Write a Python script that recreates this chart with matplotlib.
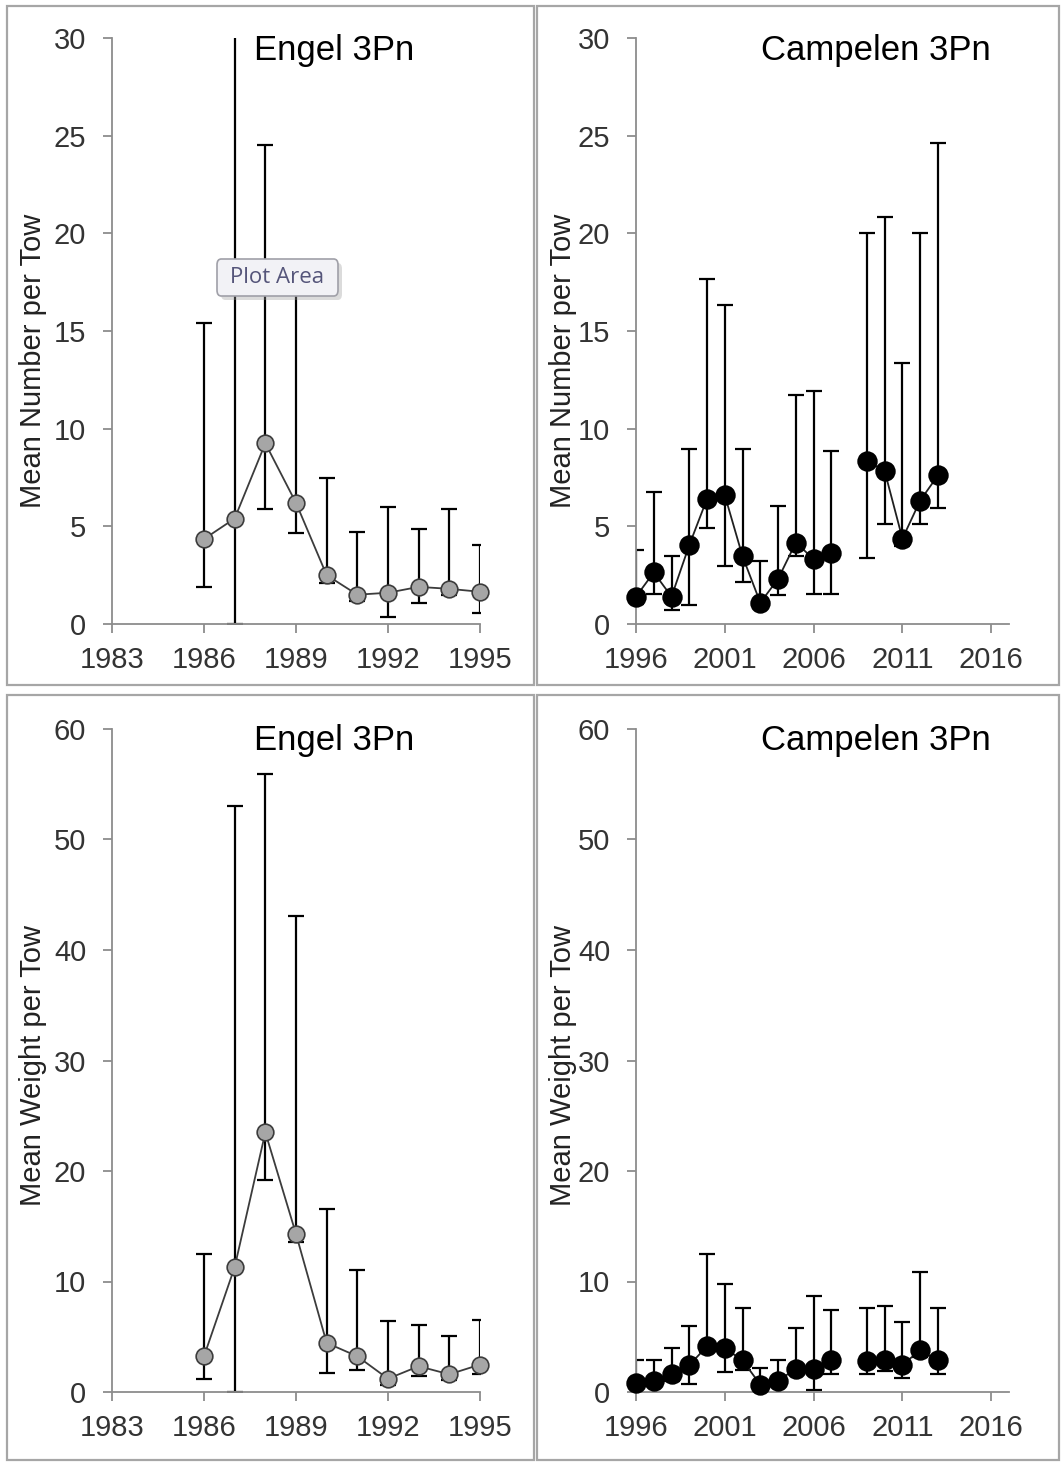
import numpy as np
import matplotlib.pyplot as plt
from matplotlib.patches import Rectangle, FancyBboxPatch

plt.rcParams['font.family'] = ['Liberation Sans', 'DejaVu Sans']

# Engel survey, 3Pn
engel_years = [1986, 1987, 1988, 1989, 1990, 1991, 1992, 1993, 1994, 1995]
engel_num_mean = [4.35, 5.4, 9.25, 6.2, 2.5, 1.5, 1.6, 1.9, 1.8, 1.65]
engel_num_upper = [15.4, 33.0, 24.5, 17.8, 7.5, 4.7, 6.0, 4.85, 5.9, 4.05]
engel_num_lower = [1.9, 0.0, 5.9, 4.65, 2.1, 1.2, 0.35, 1.1, 1.5, 0.55]
engel_wt_mean = [3.23, 11.3, 23.5, 14.3, 4.44, 3.23, 1.2, 2.33, 1.6, 2.48]
engel_wt_upper = [12.5, 53.0, 55.9, 43.1, 16.6, 11.0, 6.47, 6.07, 5.05, 6.5]
engel_wt_lower = [1.2, 0.0, 19.2, 13.6, 1.75, 1.96, 0.6, 1.42, 1.1, 1.66]

# Campelen survey, 3Pn (no survey in 2008)
nan = np.nan
camp_years = list(range(1996, 2014))
camp_num_mean = [1.4, 2.64, 1.4, 4.04, 6.41, 6.59, 3.46, 1.09, 2.31, 4.17, 3.32, 3.64, nan, 8.36, 7.83, 4.37, 6.32, 7.61]
camp_num_upper = [3.77, 6.74, 3.5, 8.98, 17.67, 16.32, 8.98, 3.24, 6.03, 11.73, 11.93, 8.87, nan, 20.0, 20.84, 13.37, 20.0, 24.6]
camp_num_lower = [1.0, 1.55, 0.71, 0.95, 4.9, 2.99, 2.15, 0.8, 1.46, 3.5, 1.55, 1.55, nan, 3.37, 5.1, 4.0, 5.1, 5.94]
camp_wt_mean = [0.81, 1.02, 1.63, 2.44, 4.13, 3.95, 2.86, 0.66, 1.02, 2.11, 2.08, 2.86, nan, 2.83, 2.86, 2.47, 3.77, 2.86]
camp_wt_upper = [2.92, 2.92, 3.98, 5.93, 12.47, 9.76, 7.59, 2.17, 2.92, 5.78, 8.7, 7.41, nan, 7.59, 7.77, 6.33, 10.84, 7.59]
camp_wt_lower = [0.5, 0.7, 0.96, 0.72, 3.6, 1.81, 2.02, 0.4, 0.7, 1.8, 0.15, 1.63, nan, 1.63, 1.87, 1.27, 3.2, 1.63]

W, H = 1061, 1462
fig = plt.figure(figsize=(W / 100, H / 100), dpi=100)


def add_ax(left, right, top, bottom):
    # pixel box -> figure fraction
    return fig.add_axes([left / W, 1 - bottom / H, (right - left) / W, (bottom - top) / H])


def draw_panel(ax, years, mean, lower, upper, face, edge, msize, line_col,
               xlim, xticks, ylim, yticks, ylabel, label_pos, title, title_pos):
    x = np.array(years, dtype=float)
    m = np.array(mean, dtype=float)
    lo = np.array(lower, dtype=float)
    hi = np.array(upper, dtype=float)
    ok = ~np.isnan(m)
    ax.errorbar(x[ok], m[ok], yerr=[m[ok] - lo[ok], hi[ok] - m[ok]], fmt='none',
                ecolor='black', elinewidth=1.6, capsize=5.6, capthick=1.6, zorder=2)
    ax.plot(x, m, color=line_col, lw=1.3, zorder=3)
    ax.plot(x, m, ls='none', marker='o', ms=msize, mfc=face, mec=edge, mew=1.2,
            zorder=4, clip_on=False)

    ax.set_xlim(*xlim)
    ax.set_ylim(*ylim)
    ax.set_xticks(xticks)
    ax.set_yticks(yticks)
    for s in ['top', 'right']:
        ax.spines[s].set_visible(False)
    for s in ['left', 'bottom']:
        ax.spines[s].set_color('#8c8c8c')
        ax.spines[s].set_linewidth(1.3)
    ax.tick_params(direction='out', length=6.5, width=1.3, color='#8c8c8c',
                   labelsize=21, labelcolor='#333333')
    ax.tick_params(axis='x', pad=9)
    ax.tick_params(axis='y', pad=12)

    ax.set_ylabel(ylabel, fontsize=21, color='#222222')
    ax.yaxis.set_label_coords(*label_pos)
    ax.yaxis.label.set_va('center')
    ax.text(title_pos[0], title_pos[1], title, transform=ax.transAxes,
            ha='center', va='center', fontsize=25, color='black')


left_xt = [1983, 1986, 1989, 1992, 1995]
right_xt = [1996, 2001, 2006, 2011, 2016]

ax1 = add_ax(112, 480, 38, 624)
draw_panel(ax1, engel_years, engel_num_mean, engel_num_lower, engel_num_upper,
           '#a6a6a6', '#3c3c3c', 12, '#3c3c3c', (1983, 1995), left_xt,
           (0, 30), range(0, 31, 5), 'Mean Number per Tow', (-0.2147, 0.449),
           'Engel 3Pn', (0.603, 0.9795))

ax2 = add_ax(636, 1009, 38, 624)
draw_panel(ax2, camp_years, camp_num_mean, camp_num_lower, camp_num_upper,
           'black', 'black', 13.5, '#202020', (1996, 2017), right_xt,
           (0, 30), range(0, 31, 5), 'Mean Number per Tow', (-0.1957, 0.449),
           'Campelen 3Pn', (0.643, 0.9795))

ax3 = add_ax(112, 480, 729, 1392)
draw_panel(ax3, engel_years, engel_wt_mean, engel_wt_lower, engel_wt_upper,
           '#a6a6a6', '#3c3c3c', 12, '#3c3c3c', (1983, 1995), left_xt,
           (0, 60), range(0, 61, 10), 'Mean Weight per Tow', (-0.2147, 0.493),
           'Engel 3Pn', (0.603, 0.983))

ax4 = add_ax(636, 1009, 729, 1392)
draw_panel(ax4, camp_years, camp_wt_mean, camp_wt_lower, camp_wt_upper,
           'black', 'black', 13.5, '#202020', (1996, 2017), right_xt,
           (0, 60), range(0, 61, 10), 'Mean Weight per Tow', (-0.1957, 0.493),
           'Campelen 3Pn', (0.643, 0.983))

# chart-area borders
for (l, t, r, b) in [(7, 6, 534, 685), (537, 6, 1059, 685),
                     (7, 695, 534, 1460), (537, 695, 1059, 1460)]:
    fig.patches.append(Rectangle((l / W, 1 - b / H), (r - l) / W, (b - t) / H,
                                 transform=fig.transFigure, fill=False,
                                 ec='#a6a6a6', lw=1.6, zorder=0))

# the "Plot Area" tooltip left over in the screenshot
bx, by, bw, bh = 217, 259, 121, 37
fig.patches.append(FancyBboxPatch(((bx + 4) / W, 1 - (by + bh + 4) / H), bw / W, bh / H,
                                  boxstyle='round,pad=0,rounding_size=0.004',
                                  transform=fig.transFigure, fc='#9a9a9a', ec='none',
                                  alpha=0.35, zorder=9))
fig.patches.append(FancyBboxPatch((bx / W, 1 - (by + bh) / H), bw / W, bh / H,
                                  boxstyle='round,pad=0,rounding_size=0.004',
                                  transform=fig.transFigure, fc='#f2f2f6', ec='#a0a0a8',
                                  lw=1.2, zorder=10))
fig.text((bx + bw / 2) / W, 1 - (by + bh / 2) / H, 'Plot Area', ha='center', va='center',
         fontsize=16, color='#55557a', family=['Open Sans', 'DejaVu Sans'], zorder=11)

fig.savefig('out.png', dpi=100)
